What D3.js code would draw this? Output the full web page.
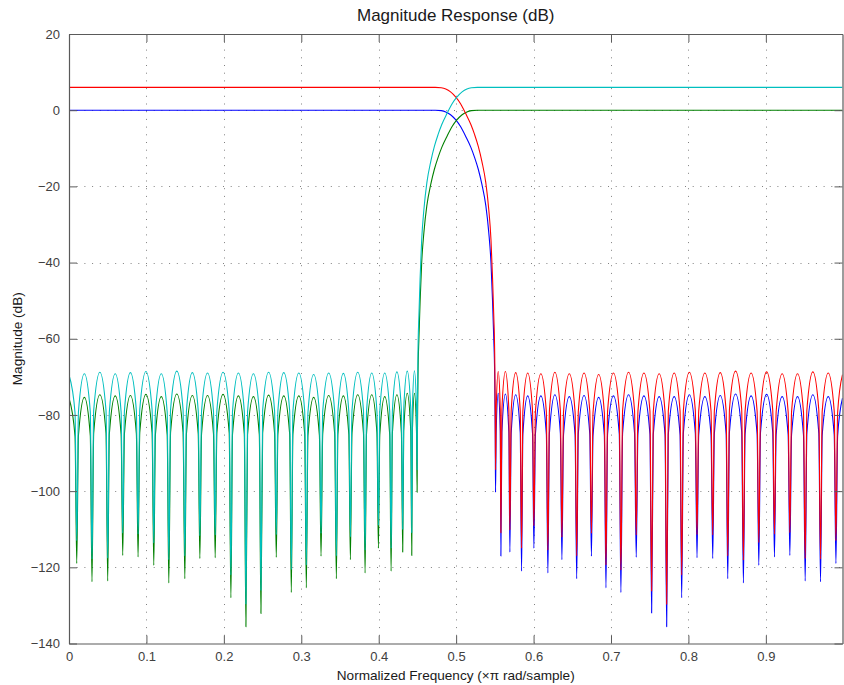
<!DOCTYPE html>
<html><head><meta charset="utf-8">
<script src="https://cdn.jsdelivr.net/npm/d3@7"></script>
<style>
html,body{margin:0;padding:0;background:#fff;}
svg{display:block;font-family:"Liberation Sans",Arial,Helvetica,sans-serif;}
</style></head><body>
<svg id="chart" width="844" height="685"></svg>
<script>
// ---------- data ----------
const titleText = "Magnitude Response (dB)";
const xLabelText = "Normalized Frequency (\u00d7\u03c0 rad/sample)";
const yLabelText = "Magnitude (dB)";
const xTicks = [0, 0.1, 0.2, 0.3, 0.4, 0.5, 0.6, 0.7, 0.8, 0.9];
const yTicks = [20, 0, -20, -40, -60, -80, -100, -120, -140];

// high-pass pair (green = 0 dB, cyan = +6 dB): frequency samples
const hpFreq = [
  0, 0.0078, 0.0100,
  0.0122, 0.01985, 0.0275, 0.0297,
  0.0319, 0.03985, 0.0478, 0.0500,
  0.0521, 0.0597, 0.0673, 0.0694,
  0.0716, 0.0793, 0.0870, 0.0892,
  0.0914, 0.09935, 0.1073, 0.1095,
  0.1116, 0.1192, 0.1268, 0.1289,
  0.1312, 0.13925, 0.1473, 0.1496,
  0.1517, 0.1593, 0.1669, 0.1690,
  0.1712, 0.1789, 0.1866, 0.1888,
  0.1910, 0.19895, 0.2069, 0.2091,
  0.2112, 0.2188, 0.2264, 0.2285,
  0.2306, 0.2382, 0.2458, 0.2479,
  0.2501, 0.2578, 0.2655, 0.2677,
  0.2698, 0.2774, 0.2850, 0.2871,
  0.2892, 0.2968, 0.3044, 0.3065,
  0.3086, 0.3160, 0.3234, 0.3255,
  0.3277, 0.3354, 0.3431, 0.3453,
  0.3473, 0.35435, 0.3614, 0.3634,
  0.3655, 0.3729, 0.3803, 0.3824,
  0.3843, 0.3910, 0.3977, 0.3996,
  0.4014, 0.4078, 0.4142, 0.4160,
  0.4177, 0.4235, 0.4293, 0.4310,
  0.4323, 0.43685, 0.4414, 0.4427,
  0.4435, 0.44615, 0.4488, 0.4496,
  0.4500, 0.4507, 0.4519, 0.4535, 0.4555, 0.4584, 0.4622, 0.4672, 0.4719,
  0.4765, 0.4816, 0.4881, 0.4948, 0.5012, 0.5077, 0.5139, 0.5197, 0.5275, 0.9990
];
const greenDb = [
  -75.6, -85.6, -119.0,
  -85.4, -75.4, -85.4, -123.8,
  -84.7, -74.7, -84.7, -123.6,
  -85.0, -75.0, -85.0, -116.9,
  -84.9, -74.9, -84.9, -117.3,
  -84.6, -74.6, -84.6, -119.5,
  -85.2, -75.2, -85.2, -124.1,
  -84.5, -74.5, -84.5, -123.0,
  -84.9, -74.9, -84.9, -117.7,
  -84.9, -74.9, -84.9, -117.5,
  -84.6, -74.6, -84.6, -128.0,
  -85.0, -75.0, -85.0, -135.6,
  -85.2, -75.2, -85.2, -132.1,
  -84.8, -74.8, -84.8, -117.4,
  -85.0, -75.0, -85.0, -126.6,
  -85.0, -75.0, -85.0, -125.4,
  -85.4, -75.4, -85.4, -117.1,
  -84.9, -74.9, -84.9, -123.0,
  -85.0, -75.0, -85.0, -118.0,
  -84.7, -74.7, -84.7, -121.5,
  -84.7, -74.7, -84.7, -115.0,
  -85.2, -75.2, -85.2, -121.0,
  -84.7, -74.7, -84.7, -116.0,
  -84.3, -74.3, -84.3, -116.9,
  -84.3, -74.3, -84.3, -100.3,
  -85, -70, -60, -50, -40, -32, -25, -19.5, -15.5,
  -12.5, -9.7, -6.9, -4.3, -2.5, -1.2, -0.45, -0.12, 0, 0
];
const cyanDb = [
  -69.5, -79.5, -113.0,
  -79.2, -69.2, -79.2, -117.8,
  -78.8, -68.8, -78.8, -117.6,
  -79.2, -69.2, -79.2, -111.0,
  -78.9, -68.9, -78.9, -111.3,
  -78.6, -68.6, -78.6, -113.6,
  -79.2, -69.2, -79.2, -118.0,
  -78.5, -68.5, -78.5, -117.0,
  -78.9, -68.9, -78.9, -111.7,
  -79.0, -69.0, -79.0, -111.5,
  -78.8, -68.8, -78.8, -122.0,
  -79.0, -69.0, -79.0, -129.6,
  -79.2, -69.2, -79.2, -126.0,
  -78.8, -68.8, -78.8, -111.4,
  -78.9, -68.9, -78.9, -120.6,
  -79.0, -69.0, -79.0, -119.4,
  -79.4, -69.4, -79.4, -111.1,
  -79.0, -69.0, -79.0, -117.0,
  -79.1, -69.1, -79.1, -112.0,
  -78.8, -68.8, -78.8, -115.5,
  -79.0, -69.0, -79.0, -109.0,
  -79.0, -69.0, -79.0, -115.0,
  -78.7, -68.7, -78.7, -110.0,
  -78.5, -68.5, -78.5, -110.9,
  -78.4, -68.4, -78.4, -94.4,
  -79, -64, -54, -44, -34, -26, -19, -13.5, -9.5,
  -6.5, -3.7, -0.9, 1.7, 3.5, 4.8, 5.55, 5.88, 6, 6
];

// low-pass pair (blue = 0 dB, red = +6 dB): frequency samples
const lpFreq = [
  0, 0.4730, 0.4808, 0.4866, 0.4928, 0.4993, 0.5057, 0.5124, 0.5189, 0.5240,
  0.5286, 0.5333, 0.5383, 0.5421, 0.5450, 0.5470, 0.5486, 0.5498, 0.5505,
  0.5509,
  0.5517, 0.55435, 0.5570, 0.5578,
  0.5591, 0.5636, 0.5681, 0.5694,
  0.5711, 0.57695, 0.5828, 0.5845,
  0.5862, 0.59245, 0.5987, 0.6004,
  0.6024, 0.60945, 0.6165, 0.6185,
  0.6205, 0.62755, 0.6346, 0.6366,
  0.6387, 0.64615, 0.6536, 0.6557,
  0.6578, 0.6652, 0.6726, 0.6747,
  0.6768, 0.6841, 0.6914, 0.6935,
  0.6956, 0.70315, 0.7107, 0.7128,
  0.7150, 0.7227, 0.7304, 0.7326,
  0.7348, 0.74255, 0.7503, 0.7525,
  0.7546, 0.7622, 0.7698, 0.7719,
  0.7740, 0.7816, 0.7892, 0.7913,
  0.7935, 0.8012, 0.8089, 0.8111,
  0.8133, 0.82125, 0.8292, 0.8314,
  0.8335, 0.8411, 0.8487, 0.8508,
  0.8530, 0.8609, 0.8688, 0.8710,
  0.8732, 0.88095, 0.8887, 0.8909,
  0.8931, 0.9010, 0.9089, 0.9111,
  0.9133, 0.92105, 0.9288, 0.9310,
  0.9332, 0.9409, 0.9486, 0.9508,
  0.9530, 0.9607, 0.9684, 0.9706,
  0.9728, 0.98055, 0.9883, 0.9905,
  0.9927, 0.9990
];
const blueDb = [
  0, 0, -0.12, -0.45, -1.2, -2.5, -4.3, -6.9, -9.7, -12.5,
  -15.5, -19.5, -25, -32, -40, -50, -60, -70, -85,
  -100.3,
  -84.3, -74.3, -84.3, -117.0,
  -84.5, -74.5, -84.5, -116.0,
  -84.7, -74.7, -84.7, -121.0,
  -85.0, -75.0, -85.0, -115.0,
  -85.0, -75.0, -85.0, -121.5,
  -84.7, -74.7, -84.7, -118.0,
  -85.2, -75.2, -85.2, -123.0,
  -84.9, -74.9, -84.9, -117.1,
  -85.4, -75.4, -85.4, -125.4,
  -85.0, -75.0, -85.0, -126.6,
  -84.7, -74.7, -84.7, -117.4,
  -85.0, -75.0, -85.0, -132.0,
  -85.2, -75.2, -85.2, -135.6,
  -85.2, -75.2, -85.2, -128.0,
  -84.7, -74.7, -84.7, -117.5,
  -85.2, -75.2, -85.2, -117.7,
  -84.9, -74.9, -84.9, -123.0,
  -84.5, -74.5, -84.5, -124.1,
  -85.0, -75.0, -85.0, -119.5,
  -84.6, -74.6, -84.6, -117.3,
  -85.2, -75.2, -85.2, -116.9,
  -85.2, -75.2, -85.2, -123.6,
  -84.7, -74.7, -84.7, -123.8,
  -85.2, -75.2, -85.2, -119.0,
  -85.6, -75.6
];
const redDb = [
  6, 6, 5.88, 5.55, 4.8, 3.5, 1.7, -0.9, -3.7, -6.5,
  -9.5, -13.5, -19, -26, -34, -44, -54, -64, -79,
  -94.4,
  -78.6, -68.6, -78.6, -110.9,
  -78.6, -68.6, -78.6, -110.2,
  -78.9, -68.9, -78.9, -115.0,
  -79.0, -69.0, -79.0, -109.1,
  -79.2, -69.2, -79.2, -115.5,
  -78.8, -68.8, -78.8, -112.1,
  -79.2, -69.2, -79.2, -117.0,
  -79.0, -69.0, -79.0, -111.1,
  -79.4, -69.4, -79.4, -119.4,
  -79.0, -69.0, -79.0, -120.7,
  -78.8, -68.8, -78.8, -111.5,
  -79.0, -69.0, -79.0, -126.2,
  -79.2, -69.2, -79.2, -129.7,
  -79.0, -69.0, -79.0, -122.0,
  -78.8, -68.8, -78.8, -111.4,
  -79.0, -69.0, -79.0, -111.5,
  -78.9, -68.9, -78.9, -117.0,
  -78.5, -68.5, -78.5, -118.1,
  -79.0, -69.0, -79.0, -113.5,
  -78.7, -68.7, -78.7, -111.3,
  -79.2, -69.2, -79.2, -110.9,
  -79.2, -69.2, -79.2, -117.7,
  -78.7, -68.7, -78.7, -117.8,
  -79.0, -69.0, -79.0, -113.0,
  -79.4, -69.4
];

// plot order and colours (first drawn underneath)
const seriesList = [
  { name: "blue",  freq: lpFreq, db: blueDb,  color: "#0000ff" },
  { name: "green", freq: hpFreq, db: greenDb, color: "#008000" },
  { name: "red",   freq: lpFreq, db: redDb,   color: "#ff0000" },
  { name: "cyan",  freq: hpFreq, db: cyanDb,  color: "#00bfbf" }
];

// ---------- layout ----------
const W = 844, H = 685;
const plot = { left: 69, top: 34, right: 842.5, bottom: 643.5 };

const svg = d3.select("#chart");
svg.append("rect").attr("width", W).attr("height", H).attr("fill", "#fff");

const x = d3.scaleLinear().domain([0, 0.999]).range([plot.left, plot.right]);
const y = d3.scaleLinear().domain([-140, 20]).range([plot.bottom, plot.top]);

// grid
const grid = svg.append("g").attr("stroke", "#808080").attr("stroke-width", 1)
  .attr("stroke-dasharray", "1,6.7");
grid.selectAll("line.gx").data(xTicks.filter(d => d > 0)).join("line")
  .attr("class", "gx")
  .attr("x1", d => Math.round(x(d)) + 0.5).attr("x2", d => Math.round(x(d)) + 0.5)
  .attr("y1", plot.bottom).attr("y2", plot.top);
grid.selectAll("line.gy").data(yTicks.filter(d => d < 20 && d > -140)).join("line")
  .attr("class", "gy")
  .attr("y1", d => Math.round(y(d)) + 0.5).attr("y2", d => Math.round(y(d)) + 0.5)
  .attr("x1", plot.left).attr("x2", plot.right);

// curves
svg.append("clipPath").attr("id", "clip").append("rect")
  .attr("x", plot.left).attr("y", plot.top)
  .attr("width", plot.right - plot.left).attr("height", plot.bottom - plot.top);

const line = d3.line()
  .x(d => x(d[0])).y(d => y(d[1]))
  .curve(d3.curveMonotoneX);

const curves = svg.append("g").attr("clip-path", "url(#clip)");
seriesList.forEach(s => {
  const pts = s.freq.map((f, i) => [f, s.db[i]]);
  curves.append("path").datum(pts)
    .attr("fill", "none").attr("stroke", s.color).attr("stroke-width", 1.1)
    .attr("stroke-linejoin", "round")
    .attr("d", line);
});

// axes (ticks inward on all four sides)
const axisColor = "#5a5a5a";
const tickLen = 8;
function styleAxis(g) {
  g.selectAll("path.domain").attr("stroke", axisColor).attr("stroke-width", 1.2);
  g.selectAll(".tick line").attr("stroke", axisColor);
  g.selectAll(".tick text").attr("fill", "#404040")
    .style("font-size", "13px").style("font-family", '"Liberation Sans",Arial,sans-serif');
}
svg.append("g").attr("transform", `translate(0,${plot.bottom})`)
  .call(d3.axisBottom(x).tickValues(xTicks).tickFormat(d3.format("~g"))
    .tickSizeInner(-tickLen).tickSizeOuter(0).tickPadding(8))
  .call(styleAxis);
svg.append("g").attr("transform", `translate(0,${plot.top})`)
  .call(d3.axisTop(x).tickValues(xTicks).tickFormat("")
    .tickSizeInner(-tickLen).tickSizeOuter(0))
  .call(styleAxis);
svg.append("g").attr("transform", `translate(${plot.left},0)`)
  .call(d3.axisLeft(y).tickValues(yTicks).tickFormat(d3.format("d"))
    .tickSizeInner(-tickLen).tickSizeOuter(0).tickPadding(9))
  .call(styleAxis);
svg.append("g").attr("transform", `translate(${plot.right},0)`)
  .call(d3.axisRight(y).tickValues(yTicks).tickFormat("")
    .tickSizeInner(-tickLen).tickSizeOuter(0))
  .call(styleAxis);

// titles
svg.append("text").attr("x", (plot.left + plot.right) / 2).attr("y", 21)
  .attr("text-anchor", "middle").attr("fill", "#1a1a1a")
  .style("font-size", "17px").text(titleText);
svg.append("text").attr("x", (plot.left + plot.right) / 2).attr("y", 680)
  .attr("text-anchor", "middle").attr("fill", "#1a1a1a")
  .style("font-size", "13.6px").text(xLabelText);
svg.append("text").attr("transform", `translate(22,${(plot.top + plot.bottom) / 2}) rotate(-90)`)
  .attr("text-anchor", "middle").attr("fill", "#1a1a1a")
  .style("font-size", "13.6px").text(yLabelText);
</script>
</body></html>
